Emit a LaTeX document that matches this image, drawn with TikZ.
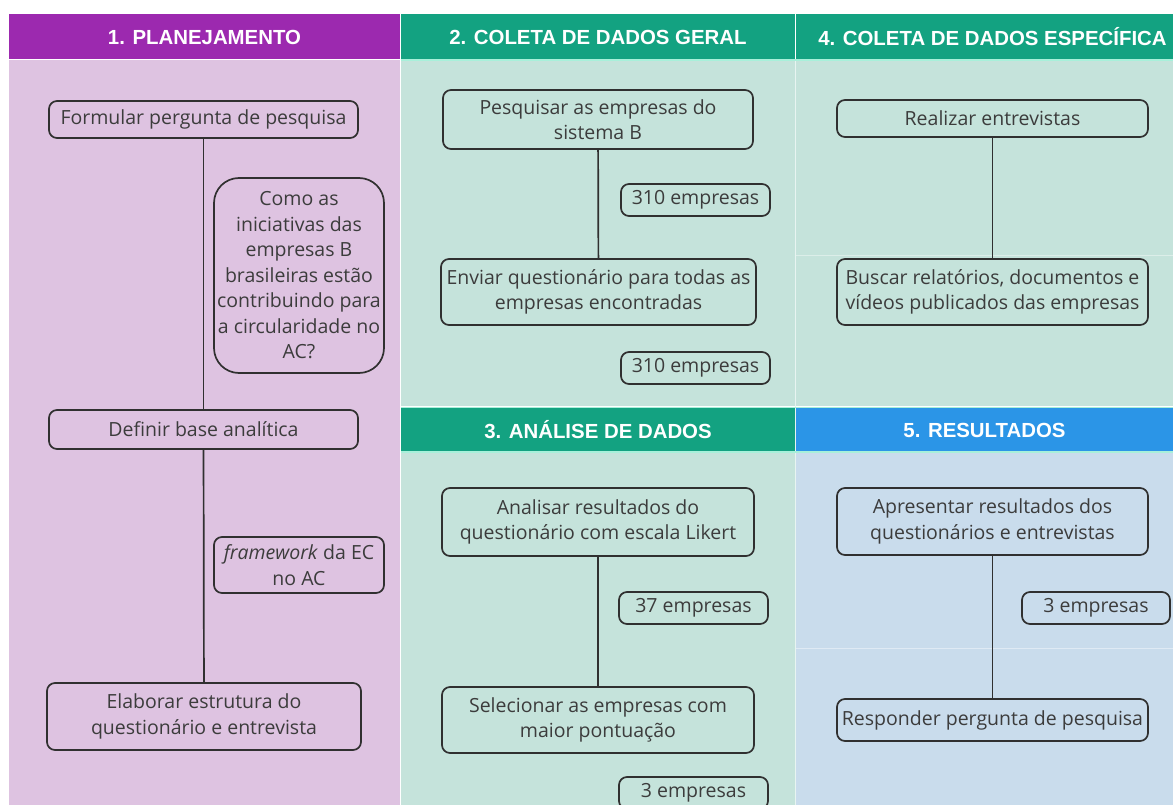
\documentclass[tikz,border=0pt]{standalone}
\usepackage{fontspec}
\setmainfont{Open Sans}
\newfontfamily\headfont{Liberation Sans}
\usetikzlibrary{positioning}

\definecolor{planhead}{HTML}{9C29AF}
\definecolor{planbody}{HTML}{DEC3E1}
\definecolor{datahead}{HTML}{13A281}
\definecolor{databody}{HTML}{C5E3DB}
\definecolor{reshead}{HTML}{2B95E7}
\definecolor{resbody}{HTML}{C9DCEC}
\definecolor{seamline}{HTML}{A8F0DA}
\definecolor{boxline}{HTML}{303030}
\definecolor{textgray}{HTML}{3C3C3C}

\tikzset{
  stepbox/.style={draw=boxline, line width=1.7pt, rounded corners=8pt, align=center,
    text=textgray, font=\fontsize{19.5}{25.5}\selectfont, inner sep=0pt},
  countbox/.style={stepbox, minimum width=149pt, minimum height=32pt},
  lanehead/.style={fill=#1, text=white, font=\headfont\bfseries\fontsize{20.4}{24}\selectfont,
    minimum height=45pt, inner sep=0pt},
  link/.style={draw=boxline, line width=1.7pt},
}

\begin{document}
\begin{tikzpicture}[x=1pt, y=-1pt]
\useasboundingbox (0,0) rectangle (1173,805);
\clip (0,0) rectangle (1173,805);
\fill[white] (0,0) rectangle (1173,805);

% lanes
\fill[planbody] (9,60) rectangle (400,805);
\fill[databody] (401,60) rectangle (1173,406);
\fill[databody] (401,452) rectangle (795,805);
\fill[resbody] (796,452) rectangle (1173,805);
\draw[white!60!databody, line width=1pt] (795.5,60) -- (795.5,805);
\draw[white!40!databody, line width=1pt] (796,256) -- (1173,256);
\draw[white!40!resbody, line width=1pt] (796,648) -- (1173,648);

\node[lanehead=planhead, minimum width=391pt] (head1) at (204.5,37) {1. PLANEJAMENTO};
\node[lanehead=datahead, minimum width=394pt] (head2) at (598,37) {2. COLETA DE DADOS GERAL};
\node[lanehead=datahead, minimum width=377pt] (head4) at (984.5,37) {\hspace*{16pt}4. COLETA DE DADOS ESPECÍFICA};
\node[lanehead=datahead, minimum width=394pt] (head3) at (598,430) {3. ANÁLISE DE DADOS};
\node[lanehead=reshead, minimum width=377pt] (head5) at (984.5,430) {5. RESULTADOS};
\draw[seamline, line width=1.2pt] (401,60) -- (1173,60);
\draw[seamline, line width=1.2pt] (401,452) -- (1173,452);
\draw[seamline, line width=1.2pt] (401,407.5) -- (1173,407.5);

% 1. planejamento
\node[stepbox, minimum width=309pt, minimum height=37pt] (formular) at (203.5,119.5) {Formular pergunta de pesquisa};
\node[stepbox, rounded corners=25pt, minimum width=170pt, minimum height=195pt] (pergunta) at (299,275.5)
  {Como as\\iniciativas das\\empresas B\\brasileiras estão\\contribuindo para\\a circularidade no\\AC?};
\node[stepbox, minimum width=309pt, minimum height=39pt] (definir) at (203.5,429.5) {Definir base analítica};
\node[stepbox, minimum width=170pt, minimum height=56pt] (framework) at (299,565) {\textit{framework} da EC\\no AC};
\node[stepbox, minimum width=314pt, minimum height=67pt] (elaborar) at (204,716.5) {Elaborar estrutura do\\questionário e entrevista};
\path[link] (formular) edge (definir);
\path[link] (definir) edge (elaborar);

% 2. coleta geral
\node[stepbox, minimum width=310pt, minimum height=59pt] (pesquisar) at (598,119.5) {Pesquisar as empresas do\\sistema B};
\node[countbox] (emp310a) at (695.5,200) {310 empresas};
\node[stepbox, minimum width=315pt, minimum height=66pt] (enviar) at (598.5,292) {Enviar questionário para todas as\\empresas encontradas};
\node[countbox] (emp310b) at (695.5,368) {310 empresas};
\path[link] (pesquisar) edge (enviar);

% 3. analise
\node[stepbox, minimum width=312pt, minimum height=68pt] (analisar) at (598,522) {Analisar resultados do\\questionário com escala Likert};
\node[countbox] (emp37) at (693.5,608) {37 empresas};
\node[stepbox, minimum width=312pt, minimum height=66pt] (selecionar) at (598,720) {Selecionar as empresas com\\maior pontuação};
\node[countbox] (emp3a) at (693.5,793) {3 empresas};
\path[link] (analisar) edge (selecionar);

% 4. coleta especifica
\node[stepbox, minimum width=311pt, minimum height=37pt] (realizar) at (992.5,118.5) {Realizar entrevistas};
\node[stepbox, minimum width=311pt, minimum height=66pt] (buscar) at (992.5,292) {Buscar relatórios, documentos e\\vídeos publicados das empresas};
\path[link] (realizar) edge (buscar);

% 5. resultados
\node[stepbox, minimum width=311pt, minimum height=67pt] (apresentar) at (992.5,521.5) {Apresentar resultados dos\\questionários e entrevistas};
\node[countbox, minimum width=148pt] (emp3b) at (1096,608) {3 empresas};
\node[stepbox, minimum width=311pt, minimum height=42pt] (responder) at (992.5,720) {Responder pergunta de pesquisa};
\path[link] (apresentar) edge (responder);
\end{tikzpicture}
\end{document}
